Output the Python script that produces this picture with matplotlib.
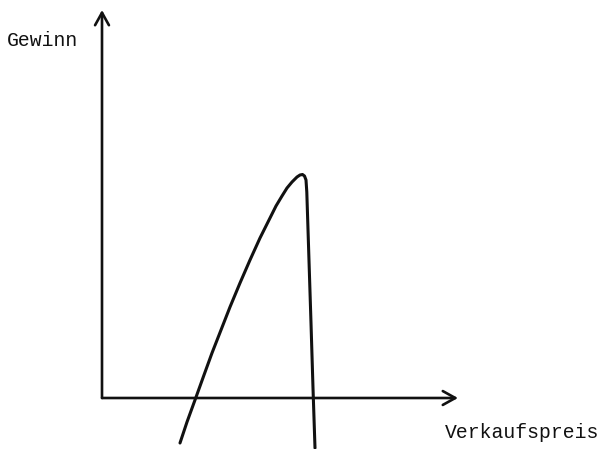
import matplotlib.pyplot as plt

# Gewinn in Abhängigkeit vom Verkaufspreis (schematisch)
preis = [7.8, 8.5, 9.3, 10.2, 11.0, 11.9, 12.8, 13.8, 14.8, 15.8, 16.8, 17.4,
         18.0, 18.5, 19.0, 19.5, 19.8, 20.05, 20.25, 20.4, 20.48, 20.9, 21.1, 21.3]
gewinn = [-4.5, -2.4, -0.2, 2.3, 4.5, 6.8, 9.1, 11.5, 13.8, 16.0, 18.0, 19.2,
          20.2, 21.0, 21.6, 22.1, 22.3, 22.35, 22.2, 21.8, 20.6, 7.5, 1.0, -5.0]

x_max = 35.6
y_max = 38.8

fig = plt.figure(figsize=(6.05, 4.49), dpi=100)
ax = fig.add_axes([0, 0, 1, 1])
ax.set_xlim(-10.2, 50.3)
ax.set_ylim(-5.1, 39.8)
ax.axis("off")

arrow = dict(arrowstyle="->,head_width=0.5,head_length=0.9", lw=1.9, color="#111111",
             shrinkA=0, shrinkB=0)
ax.annotate("", xy=(0, y_max), xytext=(0, 0), arrowprops=arrow)
ax.annotate("", xy=(x_max, 0), xytext=(0, 0), arrowprops=arrow)

ax.plot(preis, gewinn, color="#111111", lw=2.2, solid_capstyle="round", solid_joinstyle="round")

font = dict(family="Liberation Mono", fontsize=14.2, color="#111111")
ax.text(-9.5, 35.8, "Gewinn", ha="left", va="center", **font)
ax.text(34.3, -3.4, "Verkaufspreis", ha="left", va="center", **font)

fig.savefig("out.png", dpi=100)
